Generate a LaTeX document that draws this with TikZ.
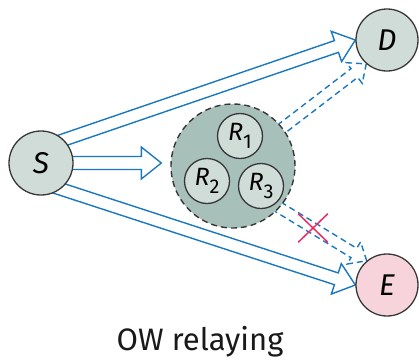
\documentclass[tikz,border=0pt]{standalone}
\usepackage{fontspec}
\setmainfont{Fira Sans}
\usetikzlibrary{calc,backgrounds,shapes.misc}

\definecolor{linkblue}{RGB}{26,120,194}
\definecolor{rimgray}{RGB}{55,55,55}
\definecolor{nodefill}{RGB}{207,220,216}
\definecolor{poolfill}{RGB}{168,192,186}
\definecolor{evefill}{RGB}{247,212,220}
\definecolor{cutred}{RGB}{232,44,100}

% outlined (hollow) arrow: [style]{from}{to}{shaft half width}{head half width}{head length}
\newcommand\hollowarrow[6][]{%
  \draw[#1] let \p1=(#2), \p2=(#3), \n1={atan2(\y2-\y1,\x2-\x1)} in
    ($(\p1)+(\n1+90:#4)$)
    -- ($(\p2)+(\n1:-#6)+(\n1+90:#4)$)
    -- ($(\p2)+(\n1:-#6)+(\n1+90:#5)$)
    -- (\p2)
    -- ($(\p2)+(\n1:-#6)+(\n1-90:#5)$)
    -- ($(\p2)+(\n1:-#6)+(\n1-90:#4)$)
    -- ($(\p1)+(\n1-90:#4)$);}

\newcommand\relaylabel[1]{\textit{R}\raisebox{-0.32em}{\fontsize{20}{20}\selectfont #1}}

\tikzset{
  site/.style={circle, draw=rimgray, line width=1.3pt, fill=nodefill, inner sep=0pt,
               minimum size=62pt, font=\fontsize{30}{30}\selectfont\itshape},
  relay/.style={circle, draw=rimgray, line width=1.3pt, fill=nodefill, inner sep=0pt,
               minimum size=45pt, font=\fontsize{25}{25}\selectfont},
  pool/.style={circle, draw=rimgray, line width=1.4pt, dash pattern=on 6pt off 4pt,
               fill=poolfill, inner sep=0pt, minimum size=124pt},
  direct/.style={draw=linkblue, line width=1.4pt, line join=miter},
  relayed/.style={draw=linkblue, line width=1.4pt, dash pattern=on 6pt off 4pt, line join=miter},
  cut/.style={cross out, draw=cutred, line width=1.5pt, inner sep=0pt,
              minimum width=28pt, minimum height=27pt},
}

\begin{document}
\begin{tikzpicture}[x=1pt, y=-1pt]
  \useasboundingbox (0,0) rectangle (419,362);

  % terminals
  \node[site, minimum size=64pt] (S) at (41,163) {S};
  \node[site] (D) at (387,40) {D};
  \node[site, fill=evefill] (E) at (387,285) {E};

  % relay pool
  \node[pool] (Rc) at (233,166) {};
  \node[relay] (R1) at (240,136) {\relaylabel{1}};
  \node[relay] (R2) at (207,181) {\relaylabel{2}};
  \node[relay] (R3) at (261,186) {\relaylabel{3}};

  % blocked link marker
  \node[cut] (X) at (313,228) {};

  % caption
  \node[font=\fontsize{31}{31}\selectfont, text=black!90] (cap) at (200,342) {OW relaying};

  \begin{scope}[on background layer]
    % direct transmissions from S
    \hollowarrow[direct]{$(S.center)!0.47!(S.north)$}{D.west}{6.2pt}{16pt}{20pt}
    \hollowarrow[direct]{$(S.center)!0.6!(S.south)$}{E.west}{6.2pt}{16pt}{20pt}
    \hollowarrow[direct]{S.center}{$(Rc.west |- S.center)+(-9,0)$}{6.5pt}{16pt}{20pt}
    % relayed transmissions
    \hollowarrow[relayed]{Rc.center}{D.229}{5.5pt}{13pt}{15pt}
    \hollowarrow[relayed]{$(R3.center)!0.45!(R3.south)$}{E.130}{5.5pt}{13pt}{15pt}
  \end{scope}
\end{tikzpicture}
\end{document}
